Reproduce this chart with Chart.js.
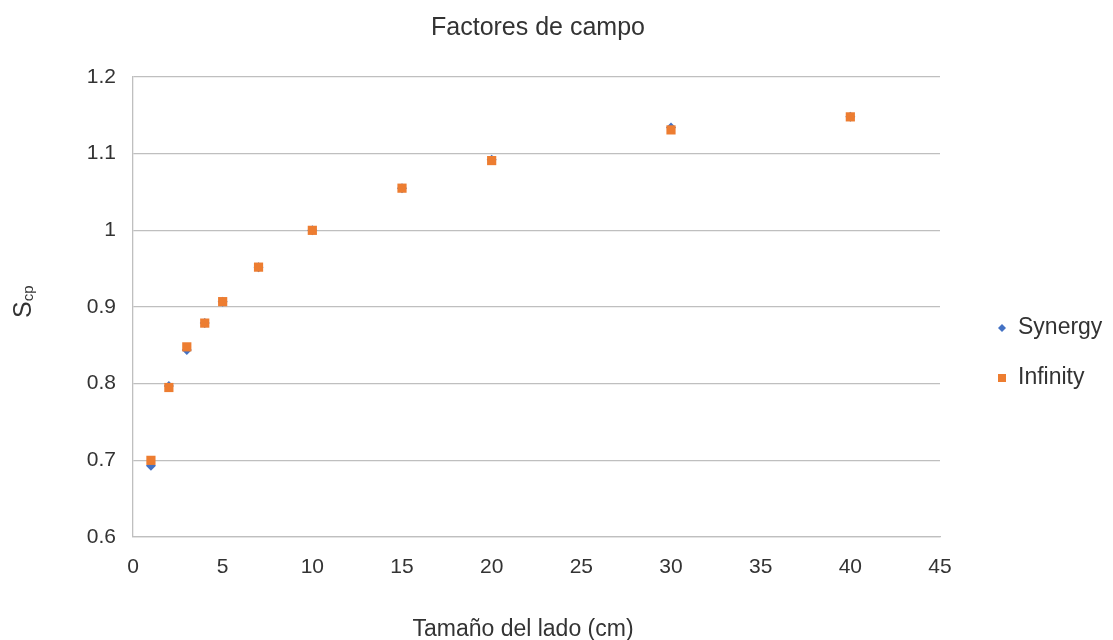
<!DOCTYPE html>
<html>
<head>
<meta charset="utf-8">
<script src="https://cdn.jsdelivr.net/npm/chart.js@4"></script>
<style>
    html, body { margin: 0; padding: 0; background: #fff; }
    #wrap { width: 1113px; height: 640px; }
</style>
</head>
<body>
<div id="wrap"><canvas id="campoChart" width="1113" height="640"></canvas></div>
<script>
// datos
var ladoCm = [1, 2, 3, 4, 5, 7, 10, 15, 20, 30, 40];
var synergy = [0.693, 0.797, 0.844, 0.879, 0.907, 0.952, 1.0, 1.055, 1.092, 1.134, 1.148];
var infinity = [0.700, 0.795, 0.848, 0.879, 0.907, 0.952, 1.0, 1.055, 1.091, 1.131, 1.148];
var serieNombres = ["Synergy", "Infinity"];
var xTicks = [0, 5, 10, 15, 20, 25, 30, 35, 40, 45];
var yTicks = [0.6, 0.7, 0.8, 0.9, 1.0, 1.1, 1.2];

var FONT = "'Liberation Sans', Arial, sans-serif";
var TEXT = "#333333";
var AZUL = "#4472C4";
var NARANJA = "#ED7D31";

function puntos(ys) {
    return ladoCm.map(function(x, i) {
        return { x: x, y: ys[i] };
    });
}

// titulos y leyenda dibujados a mano
var extras = {
    id: "extras",
    afterDraw: function(chart) {
        var ctx = chart.ctx;
        ctx.save();
        ctx.fillStyle = TEXT;
        ctx.textAlign = "center";
        ctx.textBaseline = "middle";

        ctx.font = "25px " + FONT;
        ctx.fillText("Factores de campo", 538, 28);
        ctx.font = "23px " + FONT;
        ctx.fillText("Tamaño del lado (cm)", 523, 630);

        // S con subindice cp
        ctx.translate(24, 304);
        ctx.rotate(-Math.PI / 2);
        ctx.textAlign = "left";
        ctx.font = "25px " + FONT;
        var wS = ctx.measureText("S").width;
        ctx.fillText("S", -14, 0);
        ctx.font = "15px " + FONT;
        ctx.fillText("cp", -14 + wS, 5);
        ctx.restore();

        // leyenda
        ctx.save();
        ctx.font = "23px " + FONT;
        ctx.textBaseline = "middle";
        ctx.fillStyle = AZUL;
        ctx.beginPath();
        ctx.moveTo(1002, 324);
        ctx.lineTo(1006, 328);
        ctx.lineTo(1002, 332);
        ctx.lineTo(998, 328);
        ctx.closePath();
        ctx.fill();
        ctx.fillStyle = NARANJA;
        ctx.fillRect(998, 374, 8, 8);
        ctx.fillStyle = TEXT;
        ctx.fillText(serieNombres[0], 1018, 328);
        ctx.fillText(serieNombres[1], 1018, 378);
        ctx.restore();
    }
};

new Chart(document.getElementById("campoChart"), {
    type: "scatter",
    data: {
        datasets: [{
            label: serieNombres[0],
            data: puntos(synergy),
            order: 2,
            pointStyle: "rectRot",
            pointRadius: 5,
            backgroundColor: AZUL,
            borderColor: AZUL,
            borderWidth: 0,
        }, {
            label: serieNombres[1],
            data: puntos(infinity),
            order: 1,
            pointStyle: "rect",
            pointRadius: 6.5,
            backgroundColor: NARANJA,
            borderColor: NARANJA,
            borderWidth: 0,
        }, ],
    },
    options: {
        responsive: false,
        animation: false,
        layout: { padding: { left: 0, right: 173, top: 77, bottom: 0 } },
        plugins: {
            legend: { display: false },
            title: { display: false },
            tooltip: { enabled: false },
        },
        scales: {
            x: {
                type: "linear",
                min: 0,
                max: 45,
                afterBuildTicks: function(s) {
                    s.ticks = xTicks.map(function(v) { return { value: v }; });
                },
                afterFit: function(s) { s.height = 103; },
                grid: { display: false, drawTicks: false },
                border: { display: true, color: "#BFBFBF", width: 1.3 },
                ticks: {
                    color: TEXT,
                    padding: 18,
                    font: { family: FONT, size: 21 },
                },
            },
            y: {
                min: 0.6,
                max: 1.2,
                afterBuildTicks: function(s) {
                    s.ticks = yTicks.map(function(v) { return { value: v }; });
                },
                afterFit: function(s) { s.width = 133; },
                grid: { color: "#BFBFBF", lineWidth: 1.3, drawTicks: false },
                border: { display: true, color: "#BFBFBF", width: 1.3 },
                ticks: {
                    color: TEXT,
                    padding: 17,
                    font: { family: FONT, size: 21 },
                    callback: function(v) { return String(+v.toFixed(1)); },
                },
            },
        },
    },
    plugins: [extras],
});
</script>
</body>
</html>
